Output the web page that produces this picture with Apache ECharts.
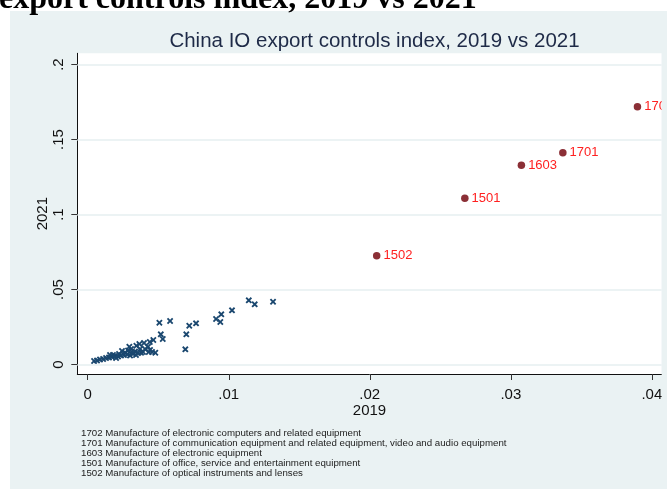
<!DOCTYPE html>
<html>
<head>
<meta charset="utf-8">
<script src="https://cdn.jsdelivr.net/npm/echarts@6/dist/echarts.min.js"></script>
<style>
  html, body { margin: 0; padding: 0; background: #ffffff; }
  #chart { width: 667px; height: 489px; }
</style>
</head>
<body>
<div id="chart"></div>
<script>
// Highlighted electronics sectors (labelled in red)
const sectorCodes = ['1702', '1701', '1603', '1501', '1502'];
const sectorX2019 = [0.03898, 0.03369, 0.03075, 0.02674, 0.02049];
const sectorY2021 = [0.1719, 0.1412, 0.1328, 0.1108, 0.0725];

// All other IO sectors
const otherX2019 = [
  0.00045, 0.00066, 0.00087, 0.00109, 0.00130, 0.00151, 0.00172, 0.00194, 0.00215, 0.00236,
  0.00257, 0.00279, 0.00300, 0.00321, 0.00342, 0.00179, 0.00222, 0.00265, 0.00243, 0.00286,
  0.00307, 0.00335, 0.00357, 0.00378, 0.00295, 0.00345, 0.00366, 0.00371, 0.00392, 0.00406,
  0.00428, 0.00440, 0.00465, 0.00433, 0.00456, 0.00479, 0.00442, 0.00518, 0.00532, 0.00508,
  0.00584, 0.00692, 0.00699, 0.00720, 0.00768, 0.00910, 0.00940, 0.00947, 0.01023, 0.01142,
  0.01184, 0.01314, 0.00201, 0.00158, 0.00314, 0.00399
];
const otherY2021 = [
  0.00233, 0.00267, 0.00333, 0.00367, 0.00433, 0.00467, 0.00500, 0.00567, 0.00533, 0.00600,
  0.00633, 0.00667, 0.00600, 0.00700, 0.00633, 0.00633, 0.00700, 0.00800, 0.00900, 0.00933,
  0.01033, 0.00867, 0.00767, 0.00787, 0.01187, 0.01253, 0.01367, 0.01033, 0.00833, 0.01033,
  0.01187, 0.01500, 0.01633, 0.00833, 0.00833, 0.00787, 0.00967, 0.02013, 0.01700, 0.02787,
  0.02900, 0.01013, 0.02013, 0.02587, 0.02747, 0.03033, 0.02833, 0.03347, 0.03613, 0.04280,
  0.04013, 0.04187, 0.00433, 0.00633, 0.00833, 0.01433
];

const xTickValues = [0, 0.01, 0.02, 0.03, 0.04];
const xTickLabels = ['0', '.01', '.02', '.03', '.04'];
const yTickValues = [0, 0.05, 0.1, 0.15, 0.2];
const yTickLabels = ['0', '.05', '.1', '.15', '.2'];

const noteLines = [
  '1702 Manufacture of electronic computers and related equipment',
  '1701 Manufacture of communication equipment and related equipment, video and audio equipment',
  '1603 Manufacture of electronic equipment',
  '1501 Manufacture of office, service and entertainment equipment',
  '1502 Manufacture of optical instruments and lenses'
];

const FONT = '"Liberation Sans", Arial, sans-serif';
const BG = '#eaf2f3';
const NAVY = '#1a476f';
const MAROON = '#8b2f36';

function tickLabel(values, labels) {
  return function (v) {
    const i = values.findIndex(function (t) { return Math.abs(t - v) < 1e-9; });
    return i >= 0 ? labels[i] : '';
  };
}

const otherData = otherX2019.map(function (x, i) { return [x, otherY2021[i]]; });
const sectorData = sectorX2019.map(function (x, i) { return [x, sectorY2021[i], sectorCodes[i]]; });

// Stata-style "X" marker
const crossPath = 'path://M0,2 L2,0 L5,3 L8,0 L10,2 L7,5 L10,8 L8,10 L5,7 L2,10 L0,8 L3,5 Z';

const graphics = [
  // outer graph region
  { type: 'rect', silent: true, z: -10, shape: { x: 10, y: 11, width: 657, height: 478 }, style: { fill: BG } },
  // heading of the surrounding document, cut at the top edge
  { type: 'text', silent: true, z: 10, style: {
      text: 'export controls index, 2019 vs 2021', x: -1, y: 0,
      font: 'bold 32px "Liberation Serif", "Times New Roman", serif',
      fill: '#000', textVerticalAlign: 'middle' } },
  // right-hand margin of the graph region, drawn above the plot
  { type: 'rect', silent: true, z: 100, shape: { x: 661.7, y: 11, width: 6, height: 478 }, style: { fill: BG } }
];
noteLines.forEach(function (line, i) {
  graphics.push({ type: 'text', silent: true, z: 10, style: {
    text: line, x: 81, y: 433 + i * 10, font: '9.7px ' + FONT, fill: '#222',
    textVerticalAlign: 'middle' } });
});

const chart = echarts.init(document.getElementById('chart'), null, { renderer: 'canvas' });
chart.setOption({
  animation: false,
  backgroundColor: '#ffffff',
  title: {
    text: 'China IO export controls index, 2019 vs 2021',
    left: 369.5, top: 26, textAlign: 'center',
    textStyle: { fontFamily: FONT, fontSize: 20.5, fontWeight: 'normal', color: '#1e2a47' }
  },
  grid: {
    left: 77.3, right: 5.3, top: 53.3, bottom: 115,
    show: true, backgroundColor: '#ffffff', borderWidth: 0,
    containLabel: false, outerBoundsMode: 'none'
  },
  xAxis: {
    type: 'value', min: -0.00074, max: 0.0407,
    name: '2019', nameLocation: 'middle', nameGap: 29, nameMoveOverlap: false,
    nameTextStyle: { fontFamily: FONT, fontSize: 15, color: '#111', verticalAlign: 'top' },
    axisLine: { show: true, onZero: false, lineStyle: { color: '#111', width: 1 } },
    axisTick: { show: true, length: 6, customValues: xTickValues, lineStyle: { color: '#333' } },
    axisLabel: { show: true, customValues: xTickValues, margin: 13, fontFamily: FONT, fontSize: 15, color: '#111',
      formatter: tickLabel(xTickValues, xTickLabels) },
    splitLine: { show: false }
  },
  yAxis: {
    type: 'value', min: -0.0063, max: 0.2075,
    name: '2021', nameLocation: 'middle', nameGap: 27, nameMoveOverlap: false,
    nameTextStyle: { fontFamily: FONT, fontSize: 15, color: '#111' },
    axisLine: { show: true, onZero: false, lineStyle: { color: '#111', width: 1 } },
    axisTick: { show: true, length: 6, customValues: yTickValues, lineStyle: { color: '#333' } },
    axisLabel: { show: true, customValues: yTickValues, rotate: 90, margin: 11, fontFamily: FONT, fontSize: 15, color: '#111',
      formatter: tickLabel(yTickValues, yTickLabels) },
    splitLine: { show: false }
  },
  series: [
    {
      name: 'gridlines', type: 'line', data: [], silent: true,
      markLine: {
        silent: true, symbol: ['none', 'none'], animation: false,
        label: { show: false },
        lineStyle: { color: '#e6eff1', width: 1.6, type: 'solid' },
        data: yTickValues.map(function (v) { return { yAxis: v }; })
      }
    },
    {
      name: 'Other sectors', type: 'scatter', data: otherData,
      symbol: crossPath, symbolSize: 6.5,
      itemStyle: { color: NAVY, opacity: 1 }
    },
    {
      name: 'Electronics sectors', type: 'scatter', data: sectorData,
      symbol: 'circle', symbolSize: 7.5,
      itemStyle: { color: MAROON, opacity: 1 },
      label: {
        show: true, position: 'right', distance: 3,
        formatter: function (p) { return p.data[2]; },
        fontFamily: FONT, fontSize: 13, color: '#ff2020'
      }
    }
  ],
  graphic: graphics
});
</script>
</body>
</html>
